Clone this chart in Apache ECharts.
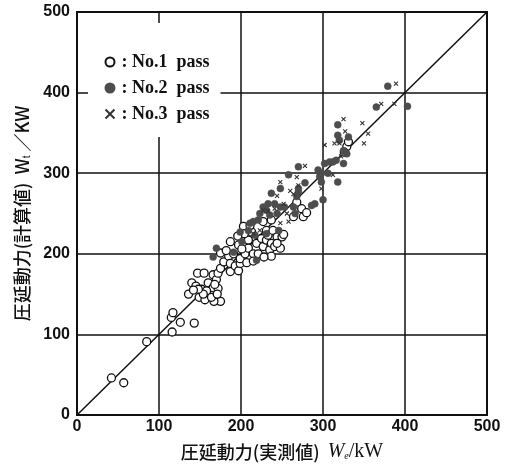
<!DOCTYPE html>
<html>
<head>
<meta charset="utf-8">
<script src="https://cdn.jsdelivr.net/npm/echarts@6/dist/echarts.min.js"></script>
<style>
  html, body { margin: 0; padding: 0; background: #fff; }
  #chart { width: 509px; height: 464px; }
</style>
</head>
<body>
<div id="chart"></div>
<script>
// Axis ticks (kW)
const axisTicks = [0, 100, 200, 300, 400, 500];

// Series names
const passNames = ['No.1  pass', 'No.2  pass', 'No.3  pass'];

// No.1 pass: [measured We, calculated Wt] in kW
const pass1 = [
  [42, 46], [57, 40], [85, 91], [115, 121], [117, 127], [126, 115], [116, 103], [143, 114],
  [147, 176], [155, 176], [140, 164], [136, 150], [145, 160], [149, 146], [156, 143], [152, 156],
  [160, 164], [162, 152], [166, 158], [168, 146], [175, 141], [167, 141], [166, 174], [170, 168],
  [172, 176], [172, 157], [168, 162], [158, 154], [154, 150], [148, 156], [142, 155], [164, 146],
  [171, 150], [175, 182], [179, 190], [175, 201], [185, 197], [187, 188], [187, 178], [187, 215],
  [191, 200], [193, 185], [197, 179], [197, 211], [199, 188], [199, 194], [203, 234], [205, 200],
  [207, 189], [209, 217], [209, 207], [213, 227], [215, 200], [219, 213], [221, 200], [225, 219],
  [227, 209], [231, 217], [231, 229], [233, 223], [235, 205], [237, 197], [237, 213], [239, 229],
  [241, 209], [244, 221], [248, 207], [250, 221], [227, 240], [237, 242], [264, 246], [274, 256],
  [276, 246], [280, 251], [268, 264], [329, 333], [331, 339], [326, 326], [204, 225], [211, 235],
  [196, 222], [182, 204], [201, 206], [215, 191], [228, 196], [244, 213], [252, 224]
];

// No.2 pass
const pass2 = [
  [166, 196], [170, 207], [199, 227], [209, 229], [211, 238], [215, 240], [221, 242], [223, 250],
  [227, 258], [231, 254], [233, 262], [235, 248], [244, 250], [248, 258], [237, 275], [248, 281],
  [241, 262], [258, 298], [270, 308], [270, 281], [270, 277], [268, 271], [264, 258], [266, 250],
  [278, 288], [286, 260], [290, 262], [294, 304], [296, 296], [298, 300], [300, 267], [302, 312],
  [306, 300], [308, 314], [318, 360], [318, 347], [318, 289], [320, 341], [325, 328], [325, 312],
  [329, 324], [331, 345], [365, 382], [379, 408], [403, 383], [219, 192], [231, 225], [246, 229],
  [191, 202], [201, 215], [217, 223], [253, 258], [298, 289], [312, 314], [316, 316]
];

// No.3 pass
const pass3 = [
  [227, 254], [233, 253], [241, 256], [244, 272], [248, 289], [252, 262], [256, 250], [258, 240],
  [268, 295], [278, 309], [264, 274], [270, 285], [260, 278], [298, 281], [302, 335], [314, 337],
  [325, 367], [327, 352], [348, 362], [350, 337], [355, 349], [371, 386], [387, 386], [389, 411],
  [312, 298], [322, 321], [320, 337], [248, 238], [215, 225], [223, 229]
];

// Reference line Wt = We
const equalityLine = [[0, 0], [500, 500]];

const crossSymbol = 'path://M0,0L10,10M10,0L0,10';

const chart = echarts.init(document.getElementById('chart'), null, { renderer: 'canvas' });

const tickFont = { fontFamily: '"Liberation Sans", Arial, sans-serif', fontWeight: 'bold', fontSize: 16, color: '#111' };
const cjkFont = '"Noto Sans CJK JP", sans-serif';
const serifFont = '"Liberation Serif", "Times New Roman", serif';

const axisCommon = {
  type: 'value',
  min: axisTicks[0],
  max: axisTicks[axisTicks.length - 1],
  interval: axisTicks[1] - axisTicks[0],
  axisLine: { show: true, lineStyle: { color: '#111', width: 2 } },
  axisTick: { show: false },
  splitLine: { show: true, lineStyle: { color: '#111', width: 1.5 } },
  axisLabel: Object.assign({}, tickFont)
};

chart.setOption({
  backgroundColor: '#fff',
  animation: false,
  grid: {
    left: 77, right: 22, top: 12, bottom: 49,
    containLabel: false,
    outerBoundsMode: 'none',
    show: true, borderColor: '#111', borderWidth: 2, backgroundColor: 'transparent'
  },
  xAxis: Object.assign({}, axisCommon, {
    axisLabel: Object.assign({}, tickFont, { margin: 4 }),
    name: '圧延動力(実測値)  {it|W}{sub|e}{n|/kW}',
    nameLocation: 'middle',
    nameGap: 27,
    nameTextStyle: {
      fontFamily: cjkFont, fontSize: 18, color: '#111', fontWeight: 500,
      rich: {
        it: { fontFamily: serifFont, fontStyle: 'italic', fontSize: 20, color: '#111' },
        sub: { fontFamily: serifFont, fontStyle: 'italic', fontSize: 10, color: '#111', padding: [9, 0, 0, 0] },
        n: { fontFamily: serifFont, fontSize: 20, color: '#111' }
      }
    }
  }),
  yAxis: Object.assign({}, axisCommon, {
    axisLabel: Object.assign({}, tickFont, { margin: 7 }),
    name: '圧延動力(計算値)  {n|W}{sub|t} {n|／KW}',
    nameLocation: 'middle',
    nameGap: 45,
    nameTextStyle: {
      fontFamily: cjkFont, fontSize: 18, color: '#111', fontWeight: 500,
      rich: {
        n: { fontFamily: cjkFont, fontSize: 18, color: '#111' },
        sub: { fontFamily: '"Liberation Sans", sans-serif', fontSize: 10, color: '#111', padding: [9, 0, 0, 0] }
      }
    }
  }),
  legend: {
    data: passNames,
    orient: 'vertical',
    left: 88,
    top: 23,
    padding: [30, 11, 14, 15],
    backgroundColor: '#fff',
    itemWidth: 9,
    itemHeight: 9,
    itemGap: 8,
    formatter: ': {name}',
    textStyle: { fontFamily: serifFont, fontWeight: 'bold', fontSize: 18, color: '#111', padding: [0, 0, 0, 2] }
  },
  series: [
    {
      name: 'Wt = We',
      type: 'line',
      data: equalityLine,
      symbol: 'none',
      silent: true,
      lineStyle: { color: '#111', width: 1.5 },
      z: 2
    },
    {
      name: passNames[0],
      type: 'scatter',
      data: pass1,
      symbol: 'circle',
      symbolSize: 8,
      itemStyle: { color: '#fff', borderColor: '#111', borderWidth: 1.3, opacity: 1 },
      z: 3
    },
    {
      name: passNames[1],
      type: 'scatter',
      data: pass2,
      symbol: 'circle',
      symbolSize: 7,
      itemStyle: { color: '#4d4d4d', borderColor: '#4d4d4d', borderWidth: 0.5, opacity: 1 },
      z: 4
    },
    {
      name: passNames[2],
      type: 'scatter',
      data: pass3,
      symbol: crossSymbol,
      symbolSize: 4,
      itemStyle: { color: 'none', borderColor: '#333', borderWidth: 1.1, opacity: 1 },
      z: 4
    }
  ]
});
</script>
</body>
</html>
